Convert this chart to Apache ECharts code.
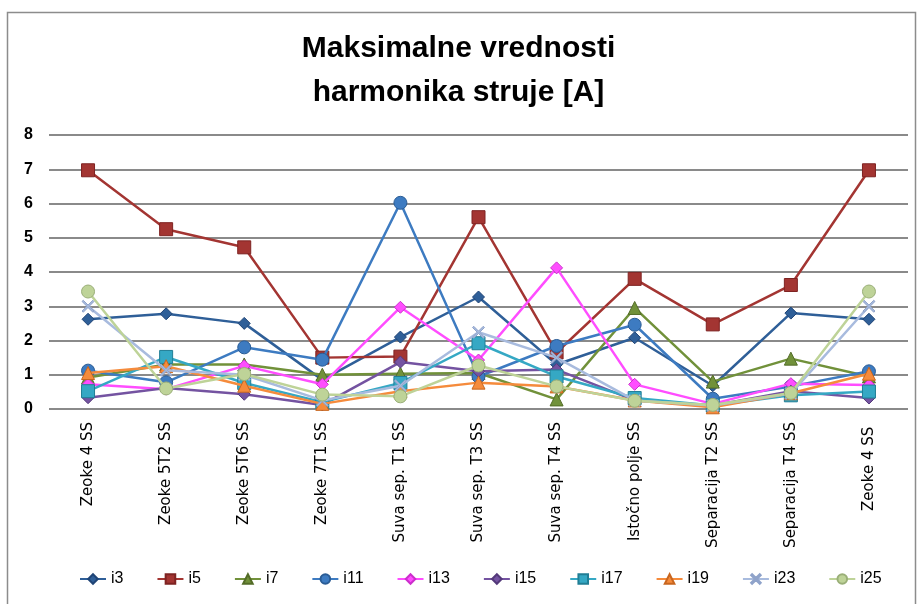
<!DOCTYPE html>
<html><head><meta charset="utf-8">
<script src="https://cdn.jsdelivr.net/npm/echarts@6/dist/echarts.min.js"></script>
<style>html,body{margin:0;padding:0;background:#fff}#c{width:917px;height:604px}</style>
</head><body><div id="c"></div>
<script>
const categories = ['Zeoke 4 SS','Zeoke 5T2 SS','Zeoke 5T6 SS','Zeoke 7T1 SS','Suva sep. T1 SS','Suva sep. T3 SS','Suva sep. T4 SS','Istočno polje SS','Separacija T2 SS','Separacija T4 SS','Zeoke 4 SS '];
const seriesNames = ['i3','i5','i7','i11','i13','i15','i17','i19','i23','i25'];
const i3  = [2.62, 2.78, 2.5, 0.85, 2.1, 3.27, 1.3, 2.08, 0.68, 2.8, 2.62];
const i5  = [6.97, 5.25, 4.72, 1.5, 1.53, 5.6, 1.65, 3.8, 2.47, 3.62, 6.97];
const i7  = [0.92, 1.3, 1.3, 1.0, 1.03, 1.05, 0.28, 2.95, 0.8, 1.47, 0.95];
const i11 = [1.12, 0.78, 1.8, 1.44, 6.02, 0.95, 1.84, 2.46, 0.3, 0.66, 1.1];
const i13 = [0.72, 0.58, 1.26, 0.72, 2.97, 1.43, 4.12, 0.72, 0.15, 0.74, 0.7];
const i15 = [0.33, 0.61, 0.43, 0.12, 1.37, 1.1, 1.15, 0.25, 0.1, 0.52, 0.32];
const i17 = [0.52, 1.52, 0.76, 0.2, 0.76, 1.92, 0.95, 0.32, 0.1, 0.4, 0.51];
const i19 = [1.05, 1.25, 0.68, 0.15, 0.52, 0.77, 0.66, 0.25, 0.05, 0.46, 1.03];
const i23 = [3.0, 1.13, 1.0, 0.25, 0.68, 2.24, 1.5, 0.25, 0.1, 0.45, 3.0];
const i25 = [3.43, 0.6, 1.02, 0.42, 0.37, 1.27, 0.66, 0.24, 0.12, 0.47, 3.43];
const yTicks = [0,1,2,3,4,5,6,7,8];

const seriesData = [i3,i5,i7,i11,i13,i15,i17,i19,i23,i25];
const colors = ['#2F5F98','#A33532','#71913A','#3D7BC1','#FF4DFF','#7453A1','#35A8C4','#F58B3C','#A8BBDE','#BED398'];
const borders = ['#1F4476','#7E2322','#536C27','#2A5C95','#CC2FCC','#54397A','#217E95','#C8661F','#8FA3CA','#9AAF78'];
const xPath = 'path://M0,1 L1,0 L5,4 L9,0 L10,1 L6,5 L10,9 L9,10 L5,6 L1,10 L0,9 L4,5 Z';
const symbols = ['diamond','rect','triangle','circle','diamond','diamond','rect','triangle',xPath,'circle'];
const sizes = [12,13,13,13,12,12,13,13,12,13];

const chart = echarts.init(document.getElementById('c'), null, {renderer:'canvas'});
chart.setOption({
  animation:false,
  backgroundColor:'#fff',
  graphic:[{type:'rect',left:5,top:10,shape:{width:908,height:620},style:{fill:'none',stroke:'#8c8c8c',lineWidth:1.5},silent:true}],
  title:{text:'Maksimalne vrednosti\nharmonika struje [A]',left:'center',top:22,
    textStyle:{fontFamily:'Liberation Sans',fontWeight:'bold',fontSize:30,lineHeight:44,color:'#000'}},
  grid:{left:49,right:9,top:135,bottom:195,containLabel:false},
  legend:{data:seriesNames,bottom:12,left:74,itemWidth:26,itemHeight:12,itemGap:33,
    textStyle:{fontFamily:'Liberation Sans',fontSize:16,color:'#000'}},
  xAxis:{type:'category',data:categories,boundaryGap:true,
    axisLine:{show:false},axisTick:{show:false},
    axisLabel:{rotate:90,interval:0,margin:13,fontFamily:'DejaVu Sans',fontSize:15,color:'#000'}},
  yAxis:{type:'value',min:0,max:8,interval:1,
    axisLine:{show:false},axisTick:{show:false},
    axisLabel:{margin:16,fontFamily:'Liberation Sans',fontWeight:'bold',fontSize:16,color:'#000'},
    splitLine:{lineStyle:{color:'#8a8a8a',width:1.8}}},
  series: seriesNames.map((n,k)=>({
    name:n,type:'line',data:seriesData[k],symbol:symbols[k],symbolSize:sizes[k],
    lineStyle:{color:colors[k],width:2.5},
    itemStyle:{color:colors[k],borderColor:borders[k],borderWidth:1},
    z:2+k
  }))
});
</script></body></html>
